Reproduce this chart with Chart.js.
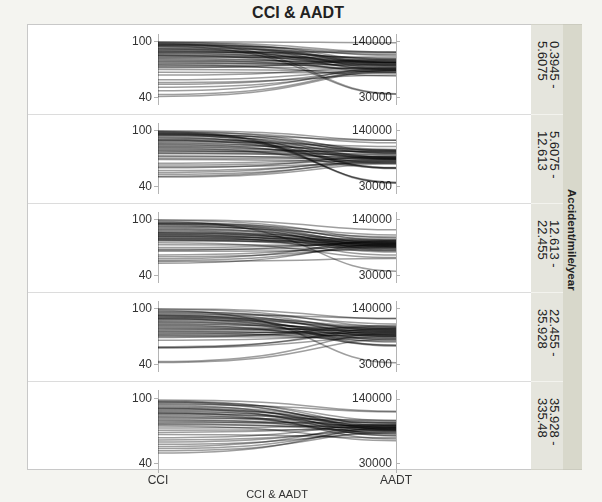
<!DOCTYPE html>
<html>
<head>
<meta charset="utf-8">
<script src="https://cdn.jsdelivr.net/npm/chart.js@4/dist/chart.umd.min.js"></script>
<style>
  html, body { margin: 0; padding: 0; }
  body {
    width: 602px; height: 502px; position: relative; overflow: hidden;
    background: #f4f4f0;
    font-family: "Liberation Sans", Arial, Helvetica, sans-serif;
    color: #222;
  }
  #title {
    position: absolute; left: 198px; width: 200px; top: 4px;
    text-align: center; font-weight: bold; font-size: 16px; line-height: 18px;
  }
  #frame {
    position: absolute; left: 27px; top: 24px; width: 505px; height: 446px;
    box-sizing: border-box; border: 1px solid #c8c8c8; background: #fff;
  }
  .sep { position: absolute; left: 28px; width: 503px; height: 1px; background: #dcdcdc; }
  canvas { position: absolute; left: 28px; }
  #strip {
    position: absolute; left: 531px; top: 24px; width: 32px; height: 446px;
    background: #e5e5dd; border-top: 1px solid #d2d2c8; border-bottom: 1px solid #d2d2c8;
    box-sizing: border-box;
  }
  .cell {
    position: absolute; left: 0; width: 32px; box-sizing: border-box;
    border-top: 1px solid #f3f3ee;
  }
  .cell span {
    position: absolute; left: 5px; top: 16px;
    writing-mode: vertical-rl; font-size: 13px; line-height: 12px; white-space: pre;
  }
  #outer {
    position: absolute; left: 563px; top: 24px; width: 19px; height: 446px;
    background: #d8d8cb; border-top: 1px solid #cbcbbf; border-bottom: 1px solid #cbcbbf;
    box-sizing: border-box;
  }
  #outer span {
    position: absolute; left: 3px; top: 164px;
    writing-mode: vertical-rl; font-size: 11.5px; line-height: 12px; font-weight: bold;
  }
</style>
</head>
<body>
<div id="title">CCI &amp; AADT</div>
<div id="frame"></div>
<div id="strip"></div>
<div id="outer"><span>Accident/mile/year</span></div>

<script>
// Accident-rate groups (one panel each) and the two parallel axes
const groupLabels = ['0.3945 -\n5.6075', '5.6075 -\n12.613', '12.613 -\n22.455', '22.455 -\n35.928', '35.928 -\n335.48'];
const axisNames = ['CCI', 'AADT'];
const cciTicks = [40, 100];
const aadtTicks = [30000, 140000];

// Group 1: 0.3945 - 5.6075
const cciG1  = [100, 99, 99, 98, 98, 97, 97, 96, 96, 95, 95, 94, 93, 92, 92, 91, 90, 90, 89, 88, 88, 87, 86, 85, 85, 84, 83, 82, 81, 80, 79, 78, 77, 76, 75, 74, 73, 72, 70, 67, 64, 59, 56, 54, 51, 47, 43, 41];
const aadtG1 = [138000, 119000, 104000, 37000, 99000, 113000, 96000, 118000, 88000, 102000, 36000, 99000, 115000, 94000, 84000, 106000, 107000, 92000, 99000, 120000, 86000, 98000, 103000, 94000, 79000, 100000, 110000, 90000, 97000, 83000, 101000, 93000, 87000, 99000, 72000, 95000, 86000, 105000, 81000, 78000, 90000, 85000, 74000, 83000, 79000, 88000, 84000, 82000];

// Group 2: 5.6075 - 12.613
const cciG2  = [100, 99, 99, 98, 98, 97, 97, 96, 96, 95, 95, 94, 93, 92, 91, 90, 90, 89, 88, 87, 86, 85, 84, 83, 82, 81, 80, 79, 78, 77, 76, 75, 73, 72, 70, 69, 65, 63, 61, 60, 57, 55, 53, 51, 50];
const aadtG2 = [121000, 37000, 100000, 36000, 116000, 95000, 66000, 103000, 38000, 87000, 121000, 99000, 65000, 84000, 101000, 96000, 67000, 88000, 109000, 84000, 97000, 75000, 102000, 86000, 92000, 66000, 98000, 89000, 83000, 100000, 86000, 94000, 80000, 88000, 84000, 78000, 86000, 82000, 76000, 90000, 79000, 84000, 77000, 81000, 74000];

// Group 3: 12.613 - 22.455
const cciG3  = [100, 99, 98, 97, 96, 96, 95, 95, 94, 93, 92, 91, 90, 89, 88, 87, 86, 86, 85, 84, 84, 83, 82, 82, 81, 80, 80, 79, 78, 78, 77, 75, 73, 70, 68, 67, 66, 62, 60, 58, 56, 55, 53];
const aadtG3 = [120000, 104000, 38000, 99000, 110000, 92000, 88000, 101000, 80000, 95000, 106000, 86000, 97000, 90000, 78000, 94000, 100000, 84000, 91000, 96000, 76000, 88000, 93000, 70000, 98000, 85000, 90000, 95000, 82000, 87000, 93000, 65000, 89000, 94000, 86000, 97000, 80000, 91000, 84000, 99000, 88000, 63000, 92000];

// Group 4: 22.455 - 35.928
const cciG4  = [100, 99, 98, 97, 96, 95, 94, 93, 93, 92, 91, 91, 90, 89, 89, 88, 87, 86, 85, 84, 83, 82, 81, 80, 79, 78, 77, 76, 75, 74, 73, 72, 71, 70, 69, 66, 59, 58, 58, 43, 42];
const aadtG4 = [120000, 105000, 33000, 96000, 110000, 88000, 121000, 100000, 67000, 92000, 104000, 78000, 98000, 85000, 66000, 102000, 90000, 74000, 95000, 86000, 100000, 68000, 93000, 80000, 97000, 88000, 103000, 84000, 91000, 76000, 99000, 87000, 94000, 82000, 107000, 89000, 96000, 85000, 101000, 92000, 80000];

// Group 5: 35.928 - 335.48
const cciG5  = [99, 98, 97, 97, 96, 95, 94, 93, 92, 91, 91, 90, 89, 88, 87, 87, 86, 85, 84, 83, 82, 81, 80, 79, 78, 77, 76, 75, 73, 71, 69, 67, 64, 62, 60, 58, 56, 54, 52, 50];
const aadtG5 = [119000, 95000, 88000, 103000, 91000, 118000, 80000, 98000, 89000, 77000, 93000, 101000, 86000, 95000, 72000, 90000, 99000, 78000, 92000, 87000, 104000, 82000, 94000, 89000, 100000, 85000, 91000, 69000, 96000, 88000, 93000, 74000, 97000, 86000, 90000, 82000, 95000, 88000, 84000, 92000];

const groups = [
  { cci: cciG1, aadt: aadtG1 },
  { cci: cciG2, aadt: aadtG2 },
  { cci: cciG3, aadt: aadtG3 },
  { cci: cciG4, aadt: aadtG4 },
  { cci: cciG5, aadt: aadtG5 }
];

const FONT = '"Liberation Sans", Arial, Helvetica, sans-serif';
const TEXT = '#333';
const AXIS = '#b4b4b4';
const panelTops = [25, 114, 203, 292, 381];
const panelHeights = [89, 89, 89, 89, 88];
const xAxisExtra = 33;

// Joins each CCI point to its AADT point with a smooth S-shaped curve
const parallelCurves = {
  id: 'parallelCurves',
  afterDatasetsDraw(chart) {
    const left = chart.getDatasetMeta(0).data;
    const right = chart.getDatasetMeta(1).data;
    const ctx = chart.ctx;
    ctx.save();
    ctx.strokeStyle = 'rgba(0,0,0,0.38)';
    ctx.lineWidth = 1.5;
    for (let i = 0; i < left.length; i++) {
      const a = left[i], b = right[i];
      const w = b.x - a.x;
      ctx.beginPath();
      ctx.moveTo(a.x, a.y);
      ctx.bezierCurveTo(a.x + 0.68 * w, a.y, a.x + 0.64 * w, b.y, b.x, b.y);
      ctx.stroke();
    }
    ctx.restore();
  }
};

const strip = document.getElementById('strip');

groups.forEach((g, p) => {
  const isLast = p === groups.length - 1;
  const top = panelTops[p];
  const h = panelHeights[p];

  if (p > 0) {
    const sep = document.createElement('div');
    sep.className = 'sep';
    sep.style.top = top + 'px';
    document.body.appendChild(sep);
  }

  const cell = document.createElement('div');
  cell.className = 'cell';
  cell.style.top = (top - 25) + 'px';
  cell.style.height = h + 'px';
  if (p === 0) cell.style.borderTop = 'none';
  const span = document.createElement('span');
  span.textContent = groupLabels[p];
  cell.appendChild(span);
  strip.appendChild(cell);

  const canvas = document.createElement('canvas');
  const ch = h + (isLast ? xAxisExtra : 0);
  canvas.width = 503;
  canvas.height = ch;
  canvas.style.top = top + 'px';
  canvas.style.width = '503px';
  canvas.style.height = ch + 'px';
  document.body.appendChild(canvas);

  new Chart(canvas, {
    type: 'scatter',
    data: {
      datasets: [
        { data: g.cci.map(v => ({ x: 0, y: v })), yAxisID: 'cci', pointRadius: 0, pointHoverRadius: 0 },
        { data: g.aadt.map(v => ({ x: 1, y: v })), yAxisID: 'aadt', pointRadius: 0, pointHoverRadius: 0 }
      ]
    },
    options: {
      responsive: false,
      animation: false,
      devicePixelRatio: 1,
      events: [],
      layout: { padding: 0 },
      plugins: { legend: { display: false }, tooltip: { enabled: false } },
      scales: {
        x: {
          type: 'linear', min: 0, max: 1, display: isLast,
          afterBuildTicks: s => { s.ticks = axisNames.map((n, i) => ({ value: i })); },
          ticks: { callback: (v, i) => axisNames[i], font: { family: FONT, size: 12 }, color: TEXT, padding: 1, maxRotation: 0 },
          grid: { display: false, drawTicks: false },
          border: { display: false },
          title: { display: true, text: axisNames.join(' & '), font: { family: FONT, size: 11 }, color: TEXT, padding: { top: 0, bottom: 0 } }
        },
        cci: {
          axis: 'y', type: 'linear', position: 'left', min: 32, max: 108,
          afterBuildTicks: s => { s.ticks = cciTicks.map(v => ({ value: v })); },
          afterFit: s => { s.width = 130; },
          ticks: { callback: v => String(v), font: { family: FONT, size: 12 }, color: TEXT, padding: 2 },
          grid: { drawOnChartArea: false, drawTicks: true, tickLength: 4, color: AXIS },
          border: { display: true, color: AXIS }
        },
        aadt: {
          axis: 'y', type: 'linear', position: 'right', min: 15000, max: 155000,
          afterBuildTicks: s => { s.ticks = aadtTicks.map(v => ({ value: v })); },
          afterFit: s => { s.width = 135; },
          ticks: { mirror: true, callback: v => String(v), font: { family: FONT, size: 12 }, color: TEXT, padding: -4 },
          grid: { drawOnChartArea: false, drawTicks: true, tickLength: 4, color: AXIS },
          border: { display: true, color: AXIS }
        }
      }
    },
    plugins: [parallelCurves]
  });
});
</script>
</body>
</html>
